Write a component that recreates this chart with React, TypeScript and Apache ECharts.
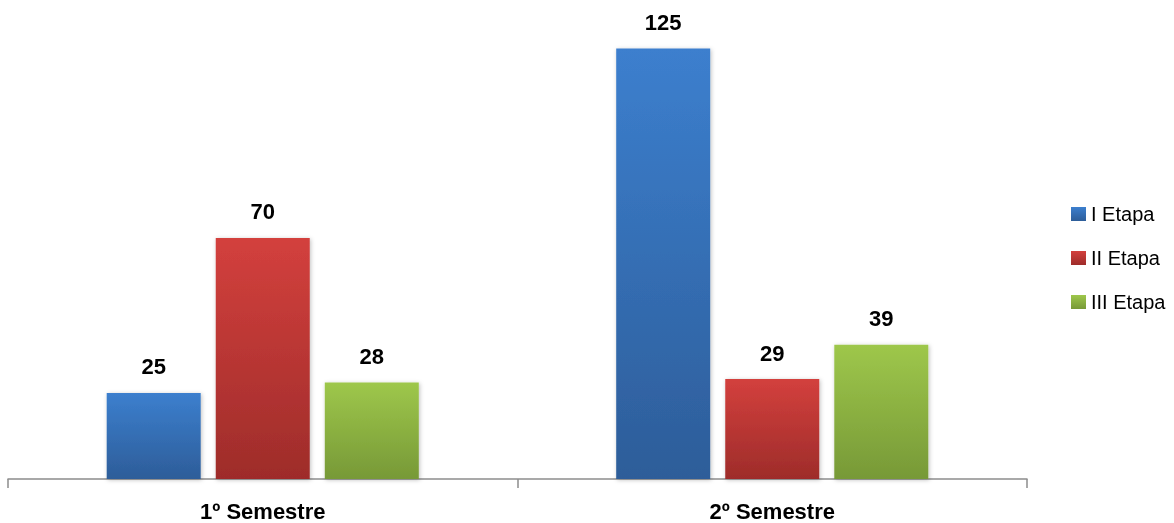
import React, { useEffect, useRef } from "react";
import * as echarts from "echarts";

const categories = ["1º Semestre", "2º Semestre"];
const seriesNames = ["I Etapa", "II Etapa", "III Etapa"];
const etapa1 = [25, 125];
const etapa2 = [70, 29];
const etapa3 = [28, 39];

const FONT = "'Liberation Sans Narrow', 'Arial Narrow', 'Liberation Sans', Arial, sans-serif";

function grad(top: string, bottom: string) {
  return new echarts.graphic.LinearGradient(0, 0, 0, 1, [
    { offset: 0, color: top },
    { offset: 1, color: bottom },
  ]);
}

export default function App() {
  const ref = useRef<HTMLDivElement>(null);
  useEffect(() => {
    if (!ref.current) return;
    const chart = echarts.init(ref.current, null, { renderer: "svg" });
    const colors = [
      ["#3c7fce", "#2d5d99"],
      ["#d3403d", "#9e2c2a"],
      ["#9ec74b", "#779937"],
    ];
    const data = [etapa1, etapa2, etapa3];
    chart.setOption({
      animation: false,
      grid: { left: 8, right: 147, top: 14, bottom: 44, containLabel: false },
      legend: {
        orient: "vertical",
        left: 1066,
        top: 199,
        itemWidth: 15,
        itemHeight: 14,
        itemGap: 24,
        icon: "rect",
        textStyle: { fontFamily: FONT, fontSize: 20, color: "#000" },
        data: seriesNames,
      },
      xAxis: {
        type: "category",
        data: categories,
        axisLine: { lineStyle: { color: "#8c8c8c", width: 1.5 } },
        axisTick: { show: true, length: 9, lineStyle: { color: "#8c8c8c", width: 1.5 } },
        axisLabel: {
          fontFamily: FONT,
          fontSize: 22,
          fontWeight: "bold",
          color: "#000",
          margin: 21,
        },
      },
      yAxis: {
        type: "value",
        min: 0,
        max: 135,
        show: false,
        splitLine: { show: false },
      },
      series: seriesNames.map((name, i) => ({
        name,
        type: "bar",
        data: data[i],
        barWidth: 94,
        barGap: "16%",
        itemStyle: {
          color: grad(colors[i][0], colors[i][1]),
          shadowColor: "rgba(0,0,0,0.25)",
          shadowBlur: 4,
          shadowOffsetX: 1,
          shadowOffsetY: 1,
        },
        label: {
          show: true,
          position: "top",
          distance: 15,
          fontFamily: FONT,
          fontSize: 22,
          fontWeight: "bold",
          color: "#000",
        },
      })),
    });
    return () => chart.dispose();
  }, []);
  return (
    <div
      ref={ref}
      style={{ position: "fixed", left: 0, top: 0, width: 1174, height: 523 }}
    />
  );
}
